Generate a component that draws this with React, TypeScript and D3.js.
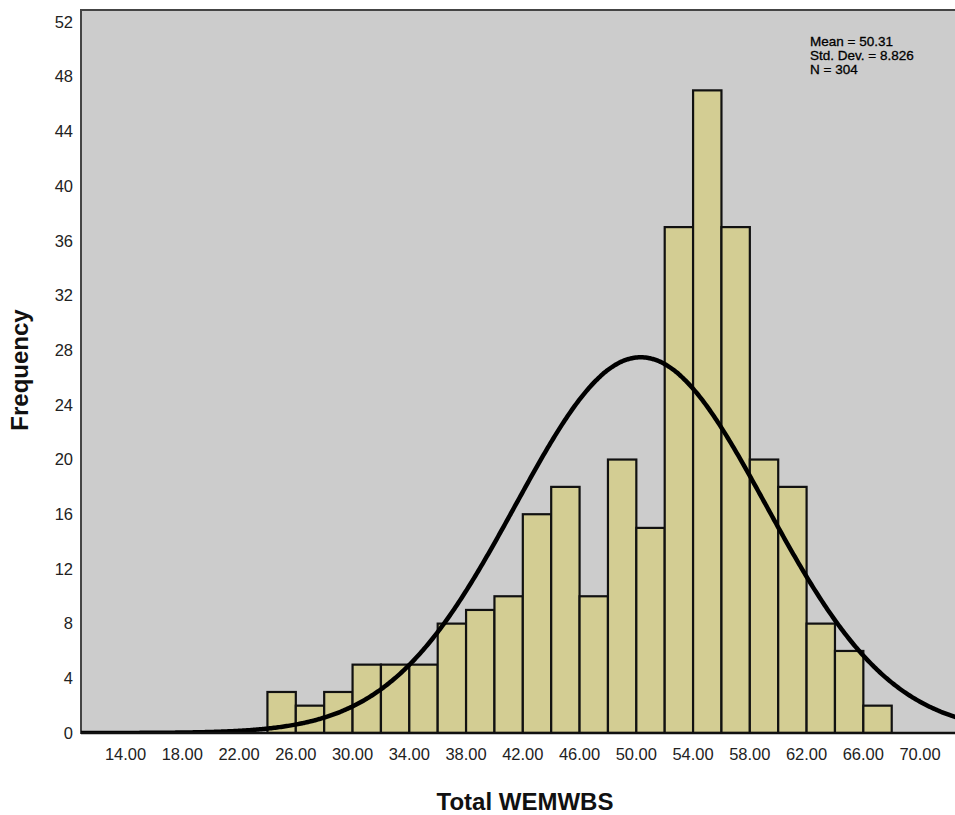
import React from "react";
import * as d3 from "d3";

// histogram bins (lower edge) and counts
const binStarts = [24, 26, 28, 30, 32, 34, 36, 38, 40, 42, 44, 46, 48, 50, 52, 54, 56, 58, 60, 62, 64, 66];
const counts = [3, 2, 3, 5, 5, 5, 8, 9, 10, 16, 18, 10, 20, 15, 37, 47, 37, 20, 18, 8, 6, 2];
const binWidth = 2;

const xTicks = [14, 18, 22, 26, 30, 34, 38, 42, 46, 50, 54, 58, 62, 66, 70];
const yTicks = [0, 4, 8, 12, 16, 20, 24, 28, 32, 36, 40, 44, 48, 52];

const mean = 50.31;
const sd = 8.826;
const n = 304;
const statLines = ["Mean = 50.31", "Std. Dev. = 8.826", "N = 304"];

const W = 955;
const H = 815;
const left = 81;
const top = 10;
const bottom = 733;

export default function App() {
  const x = d3.scaleLinear().domain([10.86, 72.46]).range([left, W]);
  const y = d3.scaleLinear().domain([0, 52]).range([bottom, 22]);

  const normal = (v: number) =>
    (n * binWidth * Math.exp(-0.5 * ((v - mean) / sd) ** 2)) / (sd * Math.sqrt(2 * Math.PI));

  const curvePts = d3.range(10.86, 74, 0.1).map((v) => [v, normal(v)] as [number, number]);
  const line = d3
    .line<[number, number]>()
    .x((d) => x(d[0]))
    .y((d) => y(d[1]))
    .curve(d3.curveBasis);

  const font = "Arial, 'Liberation Sans', sans-serif";

  return (
    <svg
      width={W}
      height={H}
      style={{ position: "absolute", left: 0, top: 0, background: "#fff" }}
      fontFamily={font}
    >
      <defs>
        <clipPath id="plot">
          <rect x={left} y={top} width={W + 10 - left} height={bottom - top} />
        </clipPath>
      </defs>
      <rect x={left} y={top} width={W + 10 - left} height={bottom - top} fill="#cccccc" stroke="#444" strokeWidth={2} />

      <g clipPath="url(#plot)">
        {binStarts.map((b, i) => (
          <rect
            key={b}
            x={x(b)}
            y={y(counts[i])}
            width={x(b + binWidth) - x(b)}
            height={bottom - y(counts[i])}
            fill="#d3cd93"
            stroke="#111"
            strokeWidth={2.2}
          />
        ))}
        <path d={line(curvePts) || ""} fill="none" stroke="#000" strokeWidth={4.5} />
      </g>
      <line x1={left} x2={W} y1={bottom} y2={bottom} stroke="#111" strokeWidth={2.5} />

      {yTicks.map((t) => (
        <text key={t} x={73} y={y(t)} dy="0.35em" textAnchor="end" fontSize={16.5} fill="#222">
          {t}
        </text>
      ))}
      {xTicks.map((t) => (
        <text key={t} x={x(t)} y={760} textAnchor="middle" fontSize={16.5} fill="#222">
          {t.toFixed(2)}
        </text>
      ))}

      {statLines.map((s, i) => (
        <text key={s} x={810} y={46 + i * 14} fontSize={13.5} fill="#000" stroke="#000" strokeWidth={0.3}>
          {s}
        </text>
      ))}

      <text
        transform={`translate(28,370) rotate(-90)`}
        textAnchor="middle"
        fontSize={24}
        fontWeight="bold"
        fill="#111"
      >
        Frequency
      </text>
      <text x={525} y={810} textAnchor="middle" fontSize={24} fontWeight="bold" fill="#111">
        Total WEMWBS
      </text>
    </svg>
  );
}
